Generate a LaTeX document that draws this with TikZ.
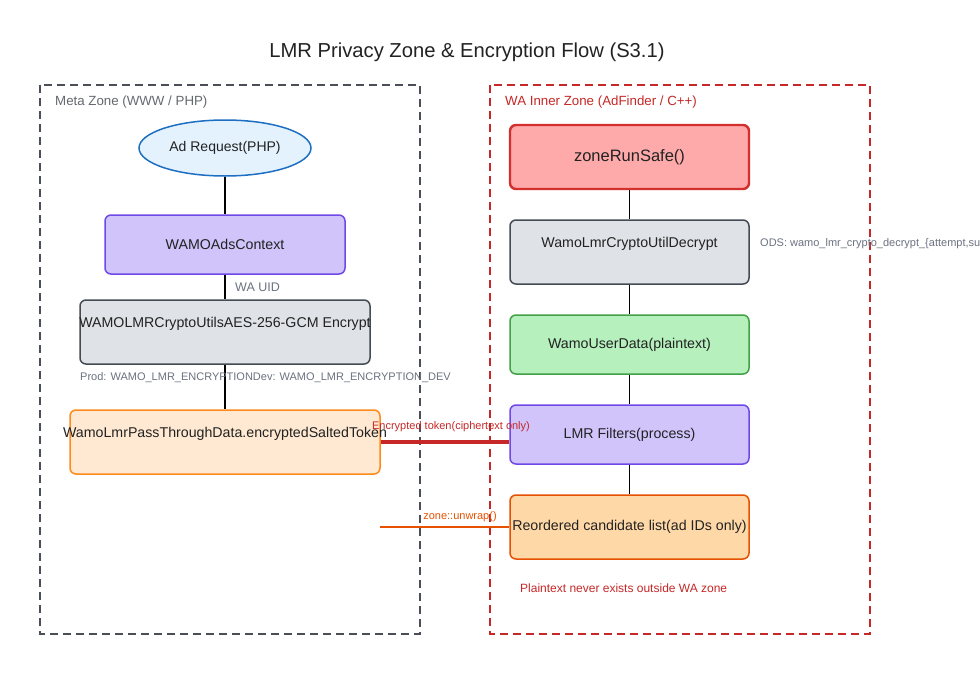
\documentclass[tikz,border=0pt]{standalone}
\usepackage{fontspec}
\setmainfont{Liberation Sans}
\usetikzlibrary{shapes.geometric}
\definecolor{zonegray}{HTML}{4A4F57}
\definecolor{zonered}{HTML}{C62828}
\definecolor{lblgray}{HTML}{6B7280}
\definecolor{txt}{HTML}{222222}
\definecolor{bluefill}{HTML}{E3F2FD}
\definecolor{blueline}{HTML}{1E6FC2}
\definecolor{purpfill}{HTML}{D0C4FB}
\definecolor{purpline}{HTML}{7048E8}
\definecolor{grayfill}{HTML}{DFE2E6}
\definecolor{grayline}{HTML}{444B55}
\definecolor{orfill}{HTML}{FFE9D2}
\definecolor{orline}{HTML}{FF8A1A}
\definecolor{redfill}{HTML}{FFAAAA}
\definecolor{redline}{HTML}{D32F2F}
\definecolor{greenfill}{HTML}{B5F0BD}
\definecolor{greenline}{HTML}{43A047}
\definecolor{or2fill}{HTML}{FFD8A8}
\definecolor{or2line}{HTML}{E65100}
\tikzset{
  zonebox/.style={line width=1.6pt, dash pattern=on 8pt off 5pt},
  procbox/.style={draw, rounded corners=6pt, line width=1.5pt, text=txt,
    font=\fontsize{14.2}{16}\selectfont, inner sep=0pt, align=center},
  nodetxt/.style={text=txt, font=\fontsize{14.2}{16}\selectfont, inner sep=0pt},
  link/.style={line width=1.5pt, draw=black},
  lbl/.style={text=lblgray, font=\fontsize{12.5}{14}\selectfont, inner sep=0pt},
  smalllbl/.style={text=lblgray, font=\fontsize{11}{13}\selectfont, inner sep=0pt},
}
\begin{document}
\begin{tikzpicture}[x=1pt,y=-1pt]
\useasboundingbox[fill=white] (0,0) rectangle (980,675);
% title
\node[font=\fontsize{20.2}{22}\selectfont, text=txt] (title) at (467,52) {LMR Privacy Zone \& Encryption Flow (S3.1)};
% zones
\draw[zonebox, draw=zonegray] (40,85) rectangle (420,634);
\node[anchor=west, text=zonegray!85, font=\fontsize{13.3}{15}\selectfont, inner sep=0pt] (metalbl) at (55,102) {Meta Zone (WWW / PHP)};
\draw[zonebox, draw=zonered] (490,85) rectangle (870,634);
\node[anchor=west, text=zonered, font=\fontsize{13.3}{15}\selectfont, inner sep=0pt] (walbl) at (505,102) {WA Inner Zone (AdFinder / C++)};
% left column
\node[ellipse, draw=blueline, fill=bluefill, line width=1.5pt, minimum width=172pt, minimum height=56pt, inner sep=0pt, text=txt, font=\fontsize{14}{16}\selectfont] (adreq) at (225,148) {Ad Request(PHP)};
\node[procbox, draw=purpline, fill=purpfill, minimum width=240pt, minimum height=59pt] (ctx) at (225,244.5) {WAMOAdsContext};
\node[procbox, draw=grayline, fill=grayfill, minimum width=290pt, minimum height=64pt] (enc) at (225,332) {};
\node[nodetxt] (enctxt) at (225,324) {WAMOLMRCryptoUtilsAES-256-GCM Encrypt};
\node[procbox, draw=orline, fill=orfill, minimum width=310pt, minimum height=64pt] (pass) at (225,442) {};
\node[nodetxt] (passtxt) at (225,434) {WamoLmrPassThroughData.encryptedSaltedToken};
\draw[link] (adreq) -- (ctx);
\draw[link] (ctx) -- (enc);
\draw[link] (enc) -- (pass);
\node[lbl, anchor=west] (uid) at (235,287) {WA UID};
\node[smalllbl, anchor=west] (prod) at (80,378) {Prod: WAMO\_LMR\_ENCRYPTIONDev: WAMO\_LMR\_ENCRYPTION\_DEV};
% right column
\node[procbox, draw=redline, fill=redfill, line width=2.4pt, minimum width=239pt, minimum height=64pt, font=\fontsize{16.5}{18}\selectfont] (zrs) at (629.5,157) {zoneRunSafe()};
\node[procbox, draw=grayline, fill=grayfill, minimum width=239pt, minimum height=64pt] (dec) at (629.5,252) {};
\node[nodetxt] (dectxt) at (629.5,244) {WamoLmrCryptoUtilDecrypt};
\node[procbox, draw=greenline, fill=greenfill, minimum width=239pt, minimum height=59pt] (ud) at (629.5,344.5) {WamoUserData(plaintext)};
\node[procbox, draw=purpline, fill=purpfill, minimum width=239pt, minimum height=59pt] (filt) at (629.5,434.5) {LMR Filters(process)};
\node[procbox, draw=or2line, fill=or2fill, minimum width=239pt, minimum height=64pt] (reord) at (629.5,527) {Reordered candidate list(ad IDs only)};
\draw[link] (zrs) -- (dec);
\draw[link] (dec) -- (ud);
\draw[link] (ud) -- (filt);
\draw[link] (filt) -- (reord);
\node[smalllbl, anchor=west] (ods) at (760,244) {ODS: wamo\_lmr\_crypto\_decrypt\_\{attempt,su};
% cross-zone links
\draw[line width=3.2pt, draw=zonered] (pass.east) -- (pass.east -| filt.west);
\node[text=zonered, font=\fontsize{11}{13}\selectfont, inner sep=0pt] (enclbl) at (451,427) {Encrypted token(ciphertext only)};
\coordinate (unwrapstart) at (380,527);
\draw[line width=1.8pt, draw=or2line] (unwrapstart) -- (reord.west);
\node[text=or2line, font=\fontsize{11}{13}\selectfont, inner sep=0pt] (unwraplbl) at (460,517) {zone::unwrap()};
\node[anchor=west, text=zonered, font=\fontsize{12}{14}\selectfont, inner sep=0pt] (note) at (520,588) {Plaintext never exists outside WA zone};
\end{tikzpicture}
\end{document}
